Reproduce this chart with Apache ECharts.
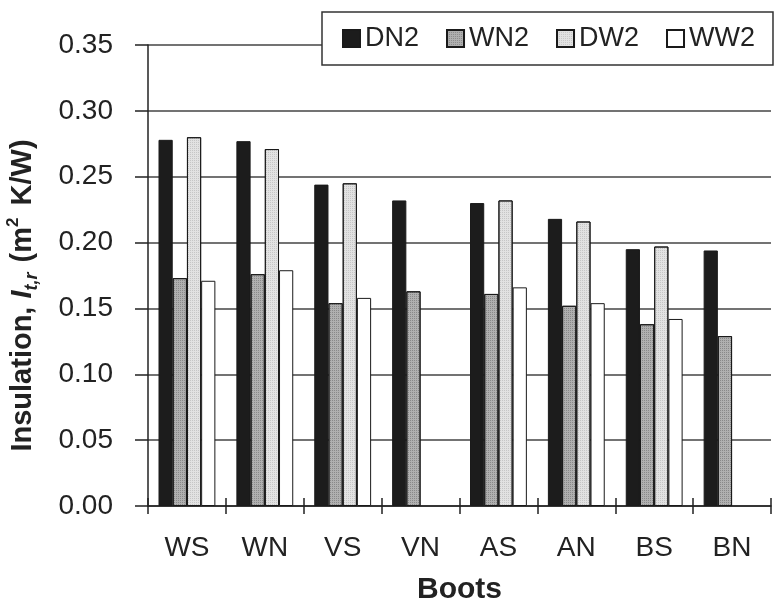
<!DOCTYPE html>
<html>
<head>
<meta charset="utf-8">
<script src="https://cdn.jsdelivr.net/npm/echarts@6/dist/echarts.min.js"></script>
<style>
  html, body { margin: 0; padding: 0; background: #fff; }
  #chart { width: 774px; height: 603px; }
</style>
</head>
<body>
<div id="chart"></div>
<script>
// Boot types on the category axis
const boots = ['WS', 'WN', 'VS', 'VN', 'AS', 'AN', 'BS', 'BN'];

// Resultant insulation I_t,r (m² K/W) per condition
const DN2 = [0.278, 0.277, 0.244, 0.232, 0.230, 0.218, 0.195, 0.194];
const WN2 = [0.173, 0.176, 0.154, 0.163, 0.161, 0.152, 0.138, 0.129];
const DW2 = [0.280, 0.271, 0.245, null, 0.232, 0.216, 0.197, null];
const WW2 = [0.171, 0.179, 0.158, null, 0.166, 0.154, 0.142, null];

const yTicks = [0, 0.05, 0.10, 0.15, 0.20, 0.25, 0.30, 0.35];

const FONT = 'Liberation Sans, Arial, sans-serif';
const TEXT = '#222';

// fine stipple texture used on the grey fills
function stipple(alpha) {
  return {
    symbol: 'rect',
    symbolSize: 1,
    dashArrayX: [1, 1],
    dashArrayY: [1, 1],
    rotation: 0,
    color: 'rgba(0,0,0,' + alpha + ')'
  };
}

function barSeries(name, data, fill, decal) {
  const style = { color: fill, borderColor: '#1a1a1a', borderWidth: 1 };
  if (decal) style.decal = decal;
  return {
    name: name,
    type: 'bar',
    data: data,
    barGap: '0%',
    barCategoryGap: '27%',
    itemStyle: style
  };
}

const chart = echarts.init(document.getElementById('chart'), null, { renderer: 'canvas' });

chart.setOption({
  animation: false,
  backgroundColor: '#fff',
  grid: { left: 148, right: 3, top: 45, bottom: 97, containLabel: false, outerBoundsMode: 'none' },
  legend: {
    left: 322,
    top: 12,
    padding: [13, 18, 13, 20],
    itemWidth: 17,
    itemHeight: 17,
    itemGap: 27,
    icon: 'rect',
    backgroundColor: '#fff',
    borderColor: '#333',
    borderWidth: 1.5,
    textStyle: { fontFamily: FONT, fontSize: 27, color: TEXT },
    data: ['DN2', 'WN2', 'DW2', 'WW2']
  },
  xAxis: [
    {
      type: 'category',
      data: boots,
      position: 'bottom',
      name: 'Boots',
      nameLocation: 'middle',
      nameGap: 69,
      nameTextStyle: { fontFamily: FONT, fontSize: 30, fontWeight: 'bold', color: TEXT },
      axisLine: { lineStyle: { color: '#222', width: 1.5 } },
      axisTick: { show: true, length: 8, lineStyle: { color: '#222', width: 1.5 } },
      axisLabel: { fontFamily: FONT, fontSize: 28, color: TEXT, margin: 28 }
    },
    {
      // upward half of the crossing tick marks
      type: 'category',
      data: boots,
      position: 'bottom',
      axisLine: { show: false },
      axisTick: { show: true, inside: true, length: 8, lineStyle: { color: '#222', width: 1.5 } },
      axisLabel: { show: false }
    }
  ],
  yAxis: {
    type: 'value',
    min: 0,
    max: 0.35,
    interval: 0.05,
    name: '{b|Insulation, }{bi|I}{sub|t,r}{b| (m}{sup|2}{b| K/W)}',
    nameLocation: 'middle',
    nameRotate: 90,
    nameGap: 107,
    nameTextStyle: {
      fontFamily: FONT,
      color: TEXT,
      padding: [0, 40, 0, 0],
      rich: {
        b: { fontFamily: FONT, fontSize: 29, fontWeight: 'bold', color: TEXT, lineHeight: 36, verticalAlign: 'middle' },
        bi: { fontFamily: FONT, fontSize: 29, fontWeight: 'bold', fontStyle: 'italic', color: TEXT, lineHeight: 36, verticalAlign: 'middle' },
        sub: { fontFamily: FONT, fontSize: 18, fontWeight: 'bold', fontStyle: 'italic', color: TEXT, verticalAlign: 'bottom', lineHeight: 36, padding: [15, 2, 0, 0] },
        sup: { fontFamily: FONT, fontSize: 17, fontWeight: 'bold', color: TEXT, verticalAlign: 'top', lineHeight: 36, padding: [0, 4, 11, 0] }
      }
    },
    axisLine: { show: true, lineStyle: { color: '#222', width: 1.5 } },
    axisTick: { show: true, length: 13, lineStyle: { color: '#222', width: 1.5 } },
    axisLabel: {
      fontFamily: FONT,
      fontSize: 28,
      color: TEXT,
      margin: 35,
      formatter: v => {
        const t = yTicks.find(k => Math.abs(k - v) < 1e-9);
        return (t === undefined ? v : t).toFixed(2);
      }
    },
    splitLine: { show: true, lineStyle: { color: '#444', width: 1.5 } }
  },
  series: [
    barSeries('DN2', DN2, '#1c1c1c'),
    barSeries('WN2', WN2, '#b0b0b0', stipple(0.22)),
    barSeries('DW2', DW2, '#e2e2e2', stipple(0.12)),
    barSeries('WW2', WW2, '#ffffff')
  ]
});
</script>
</body>
</html>
